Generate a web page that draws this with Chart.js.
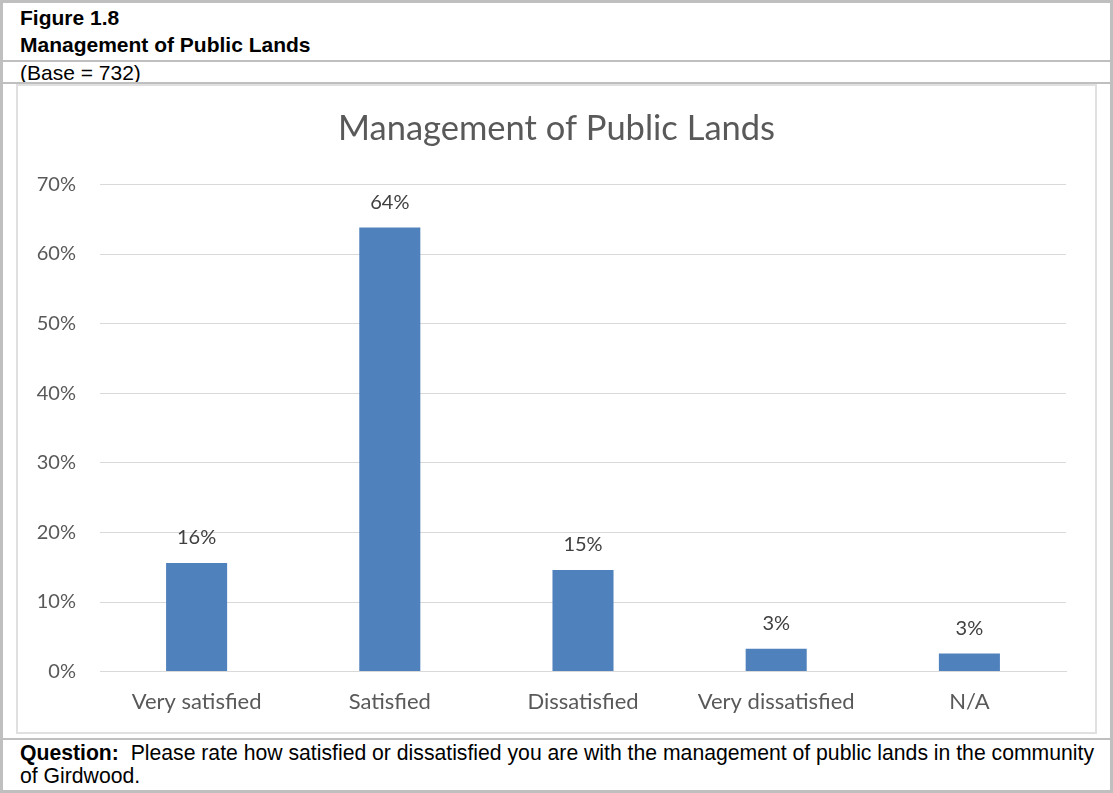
<!DOCTYPE html>
<html>
<head>
<meta charset="utf-8">
<script src="https://cdn.jsdelivr.net/npm/chart.js@4"></script>
<style>
  html, body { margin: 0; padding: 0; background: #fff; }
  .frame { position: absolute; left: 0; top: 0; width: 1113px; height: 793px; box-sizing: border-box; border: 3px solid #bfbfbf; }
  .rule { position: absolute; left: 0; right: 0; height: 2px; background: #bfbfbf; }
  .hdr { position: absolute; left: 17px; font-family: "Liberation Sans", Arial, sans-serif; font-size: 21px; line-height: 21px; color: #000; white-space: nowrap; }
  .panel { position: absolute; left: 13px; top: 81px; width: 1077px; height: 646px; border: 2px solid #e0e0e0; }
</style>
</head>
<body>
<div class="frame">
  <div class="hdr" style="top:4px; font-weight:bold;">Figure 1.8</div>
  <div class="hdr" style="top:31px; font-weight:bold;">Management of Public Lands</div>
  <div class="rule" style="top:57px;"></div>
  <div class="hdr" style="top:59px;">(Base = 732)</div>
  <div class="rule" style="top:79px;"></div>
  <div class="panel">
    <div style="position:absolute; left:0; top:0; width:1077px; height:646px;">
      <canvas id="chart"></canvas>
    </div>
  </div>
  <div class="rule" style="top:735px;"></div>
  <div class="hdr" style="top:738px; font-size:21.2px; line-height:23px;"><b>Question:</b>&nbsp; Please rate how satisfied or dissatisfied you are with the management of public lands in the community<br>of Girdwood.</div>
</div>
<script>
const categories = ['Very satisfied', 'Satisfied', 'Dissatisfied', 'Very dissatisfied', 'N/A'];
const shares = [15.6, 63.8, 14.6, 3.3, 2.6];
const yTicks = [0, 10, 20, 30, 40, 50, 60, 70];

const chartFont = 'Lato, sans-serif';

// value labels above each bar
const barLabels = {
  id: 'barLabels',
  afterDatasetsDraw(chart) {
    const ctx = chart.ctx;
    const meta = chart.getDatasetMeta(0);
    ctx.save();
    ctx.font = '20px ' + chartFont;
    ctx.fillStyle = '#404040';
    ctx.textAlign = 'center';
    ctx.textBaseline = 'middle';
    meta.data.forEach((bar, i) => {
      ctx.fillText(Math.round(shares[i]) + '%', bar.x, bar.y - 25);
    });
    ctx.restore();
  }
};

new Chart(document.getElementById('chart'), {
  type: 'bar',
  data: {
    labels: categories,
    datasets: [{
      data: shares,
      backgroundColor: '#4f81bd',
      borderWidth: 0,
      barPercentage: 0.316,
      categoryPercentage: 1
    }]
  },
  options: {
    responsive: true,
    maintainAspectRatio: false,
    animation: false,
    layout: { padding: 0 },
    plugins: {
      legend: { display: false },
      tooltip: { enabled: false },
      title: {
        display: true,
        text: 'Management of Public Lands',
        color: '#595959',
        font: { family: chartFont, size: 34.5, weight: 'normal', lineHeight: 1.2 },
        padding: { top: 22, bottom: 35 }
      }
    },
    scales: {
      x: {
        grid: { display: false, drawTicks: false },
        border: { display: true, color: '#d9d9d9', width: 1 },
        ticks: { color: '#595959', padding: 17, font: { family: chartFont, size: 22 } }
      },
      y: {
        min: 0,
        max: 70,
        afterFit(scale) { scale.width = 82; },
        afterBuildTicks(scale) { scale.ticks = yTicks.map(v => ({ value: v })); },
        grid: { color: '#d9d9d9', lineWidth: 1, drawTicks: false },
        border: { display: false },
        ticks: { color: '#595959', padding: 24, font: { family: chartFont, size: 20 }, callback: v => v + '%' }
      },
      // empty right margin so the title stays centred on the whole panel
      yRight: {
        position: 'right',
        min: 0,
        max: 1,
        afterFit(scale) { scale.width = 29; },
        grid: { display: false, drawTicks: false },
        border: { display: false },
        ticks: { display: false }
      }
    }
  },
  plugins: [barLabels]
});
</script>
</body>
</html>
